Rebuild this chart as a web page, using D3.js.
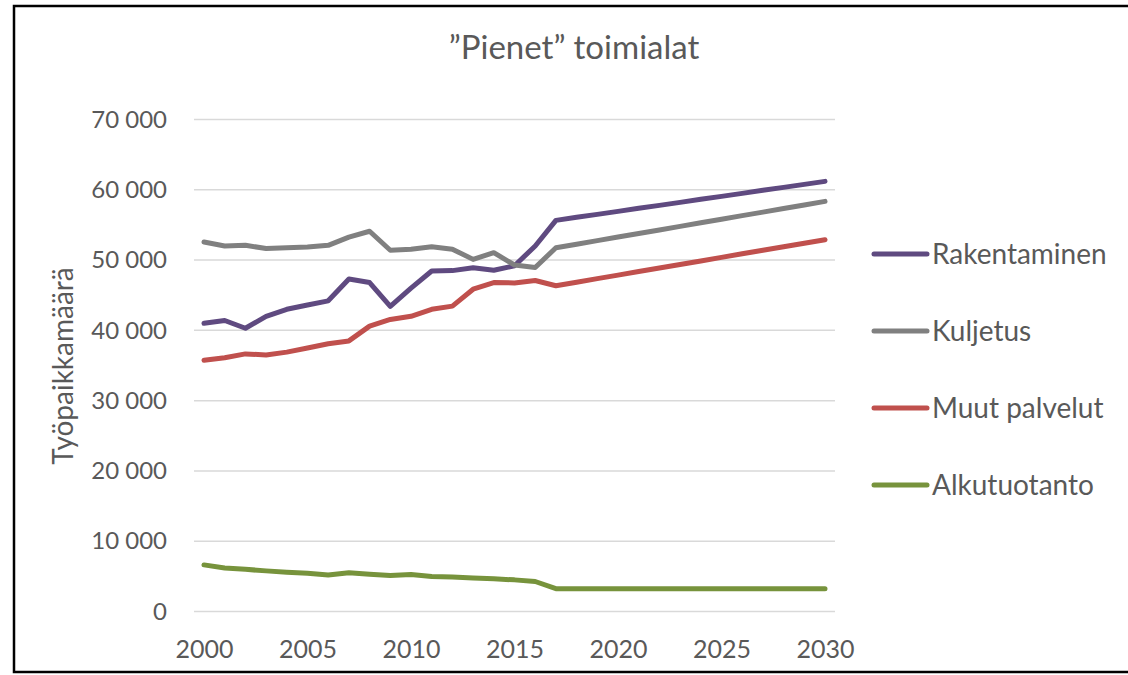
<!DOCTYPE html>
<html>
<head>
<meta charset="utf-8">
<script src="https://cdn.jsdelivr.net/npm/d3@7"></script>
<style>
  body { margin: 0; background: #fff; }
  text { font-family: Lato, "Open Sans", sans-serif; fill: #595959; }
</style>
</head>
<body>
<svg id="chart" width="1128" height="675"></svg>
<script>
const years = d3.range(2000, 2031);
const rakentaminen = [41000, 41400, 40300, 42000, 43000, 43600, 44200, 47300, 46800, 43400,
  46000, 48450, 48500, 48900, 48550, 49200, 52000, 55650, 56080, 56500,
  56930, 57360, 57780, 58210, 58640, 59060, 59490, 59920, 60340, 60770, 61200];
const kuljetus = [52560, 52000, 52100, 51650, 51750, 51850, 52100, 53270, 54100, 51400,
  51550, 51900, 51550, 50100, 51050, 49300, 48950, 51750, 52260, 52770,
  53270, 53780, 54290, 54790, 55300, 55810, 56320, 56820, 57330, 57840, 58350];
const muutPalvelut = [35750, 36100, 36650, 36500, 36900, 37500, 38100, 38500, 40600, 41550,
  42000, 43000, 43450, 45850, 46800, 46750, 47100, 46350, 46850, 47360,
  47860, 48370, 48870, 49370, 49880, 50380, 50890, 51390, 51890, 52400, 52900];
const alkutuotanto = [6630, 6200, 6000, 5780, 5600, 5450, 5200, 5500, 5300, 5130,
  5250, 4980, 4900, 4750, 4650, 4500, 4270, 3250, 3250, 3250,
  3250, 3250, 3250, 3250, 3250, 3250, 3250, 3250, 3250, 3250, 3250];
const yTicks = [0, 10000, 20000, 30000, 40000, 50000, 60000, 70000];
const xTicks = [2000, 2005, 2010, 2015, 2020, 2025, 2030];

const series = [
  { name: "Rakentaminen", values: rakentaminen, color: "#5f4a80" },
  { name: "Kuljetus", values: kuljetus, color: "#808080" },
  { name: "Muut palvelut", values: muutPalvelut, color: "#c0504d" },
  { name: "Alkutuotanto", values: alkutuotanto, color: "#77933c" }
];

const svg = d3.select("#chart");

// chart frame
svg.append("rect")
  .attr("x", 14).attr("y", 6)
  .attr("width", 1130).attr("height", 666)
  .attr("fill", "none").attr("stroke", "#000").attr("stroke-width", 2.5);

const plotLeft = 194, plotRight = 835;
const x = d3.scaleLinear().domain([2000, 2030]).range([204, 825]);
const y = d3.scaleLinear().domain([0, 70000]).range([611.5, 119.5]);

const fi = d3.formatLocale({ decimal: ",", thousands: " ", grouping: [3], currency: ["", " €"] });
const fmt = fi.format(",d");

// gridlines
svg.append("g")
  .selectAll("line")
  .data(yTicks)
  .join("line")
  .attr("x1", plotLeft).attr("x2", plotRight)
  .attr("y1", d => y(d)).attr("y2", d => y(d))
  .attr("stroke", "#d9d9d9").attr("stroke-width", 1.5);

// y axis labels
const yAxis = svg.append("g")
  .attr("transform", "translate(" + (plotLeft - 27) + ",0)")
  .call(d3.axisLeft(y).tickValues(yTicks).tickFormat(fmt).tickSize(0).tickPadding(0));
yAxis.select(".domain").remove();
yAxis.selectAll("text").style("font-size", "24px").attr("fill", "#595959")
  .style("font-family", "Lato, sans-serif");

// x axis labels
const xAxis = svg.append("g")
  .attr("transform", "translate(0,640)")
  .call(d3.axisBottom(x).tickValues(xTicks).tickFormat(d3.format("d")).tickSize(0).tickPadding(0));
xAxis.select(".domain").remove();
xAxis.selectAll("text").style("font-size", "25px").attr("fill", "#595959")
  .style("font-family", "Lato, sans-serif");

// lines
const line = d3.line()
  .x((d, i) => x(years[i]))
  .y(d => y(d));

svg.append("g")
  .selectAll("path")
  .data(series)
  .join("path")
  .attr("d", d => line(d.values))
  .attr("fill", "none")
  .attr("stroke", d => d.color)
  .attr("stroke-width", 5)
  .attr("stroke-linejoin", "round")
  .attr("stroke-linecap", "round");

// title
svg.append("text")
  .attr("x", 574).attr("y", 59)
  .attr("text-anchor", "middle")
  .style("font-size", "33px")
  .text("\u201dPienet\u201d toimialat");

// y axis title
svg.append("text")
  .attr("transform", "translate(73,366) rotate(-90)")
  .attr("text-anchor", "middle")
  .style("font-size", "28px")
  .text("Työpaikkamäärä");

// legend
const legend = svg.append("g")
  .selectAll("g")
  .data(series)
  .join("g")
  .attr("transform", (d, i) => "translate(874," + (254 + i * 77) + ")");
legend.append("line")
  .attr("x1", 0).attr("x2", 53)
  .attr("stroke", d => d.color)
  .attr("stroke-width", 5)
  .attr("stroke-linecap", "round");
legend.append("text")
  .attr("x", 58).attr("dy", "0.35em")
  .style("font-size", "28px")
  .text(d => d.name);
</script>
</body>
</html>
